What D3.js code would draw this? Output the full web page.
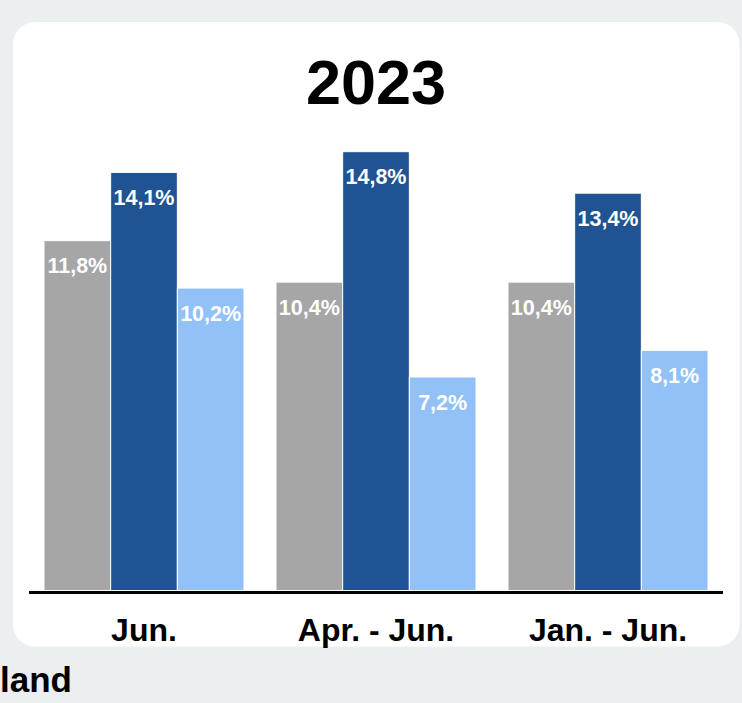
<!DOCTYPE html>
<html>
<head>
<meta charset="utf-8">
<script src="https://cdn.jsdelivr.net/npm/d3@7"></script>
<style>
  html, body { margin: 0; padding: 0; background: #ebeff0; }
  svg { display: block; }
  text { font-family: "Liberation Sans", Arial, Helvetica, sans-serif; }
</style>
</head>
<body>
<svg id="chart" width="742" height="703"></svg>
<script>
const title = "2023";
const categories = ["Jun.", "Apr. - Jun.", "Jan. - Jun."];
const series = ["s1", "s2", "s3"];
const seriesColors = ["#a6a6a6", "#1f5391", "#91c1f7"];
const valuesS1 = [11.8, 10.4, 10.4];
const valuesS2 = [14.1, 14.8, 13.4];
const valuesS3 = [10.2, 7.2, 8.1];
const footerText = "land";

const W = 742, H = 703;
const svg = d3.select("#chart");

// background
svg.append("rect").attr("x", 0).attr("y", 0).attr("width", W).attr("height", H).attr("fill", "#ebeff0");
// card
svg.append("rect").attr("x", 13).attr("y", 22).attr("width", 726.5).attr("height", 624.5)
  .attr("rx", 22).attr("ry", 22).attr("fill", "#ffffff");

// title
svg.append("text").attr("x", 376).attr("y", 104)
  .attr("text-anchor", "middle").attr("font-size", 63).attr("font-weight", "bold")
  .attr("fill", "#000").text(title);

const allValues = [valuesS1, valuesS2, valuesS3];
const data = categories.map((c, i) => ({
  cat: c,
  vals: series.map((s, j) => ({ key: s, value: allValues[j][i], color: seriesColors[j] }))
}));

const baseY = 590.5;
const x0 = d3.scaleBand().domain(categories).range([28, 724]).paddingInner(0.138).paddingOuter(0.069);
const x1 = d3.scaleBand().domain(series).range([0, x0.bandwidth()]);
const y = d3.scaleLinear().domain([0, 15]).range([baseY, baseY - 15 * 29.65]);

const groups = svg.append("g").selectAll("g").data(data).join("g")
  .attr("transform", d => `translate(${x0(d.cat)},0)`);

groups.selectAll("rect").data(d => d.vals).join("rect")
  .attr("x", d => x1(d.key))
  .attr("y", d => y(d.value))
  .attr("width", x1.bandwidth())
  .attr("height", d => y(0) - y(d.value))
  .attr("fill", d => d.color)
  .attr("stroke", "#ffffff").attr("stroke-width", 1);

groups.selectAll("text.val").data(d => d.vals).join("text")
  .attr("class", "val")
  .attr("x", d => x1(d.key) + x1.bandwidth() / 2)
  .attr("y", d => y(d.value) + 32.5)
  .attr("text-anchor", "middle")
  .attr("font-size", 21.5).attr("font-weight", "bold").attr("fill", "#ffffff")
  .text(d => d3.format(".1f")(d.value).replace(".", ",") + "%");

// baseline axis
const xAxis = d3.axisBottom(x0).tickSize(0).tickPadding(0);
const axisG = svg.append("g").attr("transform", `translate(0,${baseY + 2})`).call(xAxis);
axisG.select(".domain").attr("d", "M29,0H723").attr("stroke", "#000").attr("stroke-width", 3);
axisG.selectAll(".tick text")
  .attr("y", 48.5).attr("dy", 0)
  .attr("font-size", 32).attr("font-weight", "bold").attr("fill", "#000")
  .style("font-family", '"Liberation Sans", Arial, Helvetica, sans-serif');

// footer partial text
svg.append("text").attr("x", 0).attr("y", 692)
  .attr("font-size", 35).attr("font-weight", "bold").attr("fill", "#000")
  .text(footerText);
</script>
</body>
</html>
